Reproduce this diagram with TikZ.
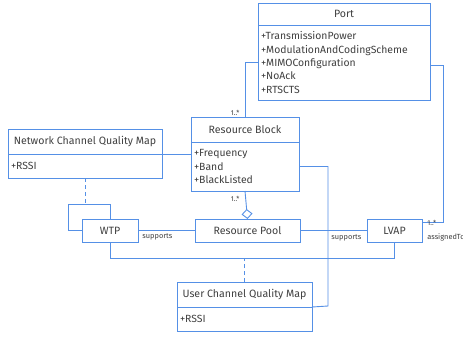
\documentclass[tikz,border=0pt]{standalone}
\usepackage{fontspec}
\setmainfont{Fira Sans}
\usetikzlibrary{arrows.meta}
\definecolor{umlblue}{HTML}{5590E6}
\definecolor{txtgray}{HTML}{404040}
\begin{document}
\begin{tikzpicture}[x=1pt,y=-1pt,
  line width=0.9pt,
  every node/.style={text=txtgray},
  conn/.style={draw=umlblue,line width=0.9pt},
  assocdash/.style={draw=umlblue,line width=0.9pt,dash pattern=on 4pt off 3pt},
  boxbase/.style={draw=umlblue,line width=0.9pt,inner sep=0pt,outer sep=0pt,font=\fontsize{10.6}{12}\selectfont},
  titlebox/.style={boxbase,align=center},
  attrbox/.style={boxbase,align=left,font=\fontsize{10.4}{13.4}\selectfont},
  mult/.style={font=\fontsize{7}{8}\selectfont,inner sep=0pt},
  rolelabel/.style={font=\fontsize{7.4}{9}\selectfont,inner sep=0pt}
]
\clip (0,0) rectangle (463,337);
\fill[white] (0,0) rectangle (463,337);

% Port
\node[titlebox,minimum width=172pt,minimum height=22pt] (portT) at (344,14) {Port};
\node[attrbox,minimum width=172pt,minimum height=75pt,text width=166pt] (portA) at (344,62.5)
  {+TransmissionPower\\+ModulationAndCodingScheme\\+MIMOConfiguration\\+NoAck\\+RTSCTS};

% Resource Block
\node[titlebox,minimum width=108pt,minimum height=25pt] (rbT) at (245,129.5) {Resource Block};
\node[attrbox,minimum width=108pt,minimum height=49pt,text width=102pt] (rbA) at (245,166.5)
  {+Frequency\\+Band\\+BlackListed};

% Network Channel Quality Map
\node[titlebox,minimum width=154pt,minimum height=25pt] (ncqmT) at (85,141.5) {Network Channel Quality Map};
\node[attrbox,minimum width=154pt,minimum height=24pt,text width=148pt] (ncqmA) at (85,166) {+RSSI};

% WTP, Resource Pool, LVAP
\node[titlebox,minimum width=56pt,minimum height=23pt] (wtp) at (110,230.5) {WTP};
\node[titlebox,minimum width=105pt,minimum height=23pt] (rp) at (247.5,230.5) {Resource Pool};
\node[titlebox,minimum width=55pt,minimum height=23pt] (lvap) at (394.5,230.5) {LVAP};

% User Channel Quality Map
\node[titlebox,minimum width=135pt,minimum height=25pt] (ucqmT) at (244.5,294.5) {User Channel Quality Map};
\node[attrbox,minimum width=135pt,minimum height=24pt,text width=129pt] (ucqmA) at (244.5,319) {+RSSI};

% Port -- Resource Block
\draw[conn] (portA.west) -| (rbT.north);
\node[mult,anchor=east] at (240,113) {1..*};

% Port -- LVAP
\coordinate (pr) at (443,222);
\draw[conn] (portA.east |- 0,65) -| (pr) -- (lvap.east |- pr);
\node[mult,anchor=west] at (427,223) {1..*};
\node[rolelabel,anchor=west] at (427,237) {assignedTo};

% NCQM -- Resource Block
\draw[conn] (ncqmA.north east) -- (rbA.west |- ncqmA.north east);

% WTP self association with NCQM association class
\coordinate (loopTop) at (85,204);
\draw[conn] (wtp.north) -- (110,204) -| (68,230.5) -- (wtp.west);
\draw[assocdash] (ncqmA.south) -- (loopTop);

% WTP -- Resource Pool
\draw[conn] (wtp.east) -- (rp.west);
\node[rolelabel,anchor=west] at (142,237) {supports};

% Resource Block -- Resource Pool (aggregation)
\draw[conn,-{Diamond[open,length=10pt,width=11pt,line width=0.9pt]}] (rbA.south) -- (rp.north);
\node[mult,anchor=east] at (240,199) {1..*};

% Resource Block -- UCQM
\coordinate (rbr) at (328,306);
\draw[conn] (rbA.east) -| (rbr) -- (ucqmT.south east);

% Resource Pool -- LVAP
\draw[conn] (rp.east) -- (lvap.west);
\node[rolelabel,anchor=west] at (331,238) {supports};

% WTP -- LVAP with UCQM association class
\coordinate (wl) at (394.5,258);
\draw[conn] (wtp.south) |- (wl) -- (lvap.south);
\draw[assocdash] (ucqmT.north) -- (ucqmT.north |- wl);
\end{tikzpicture}
\end{document}
